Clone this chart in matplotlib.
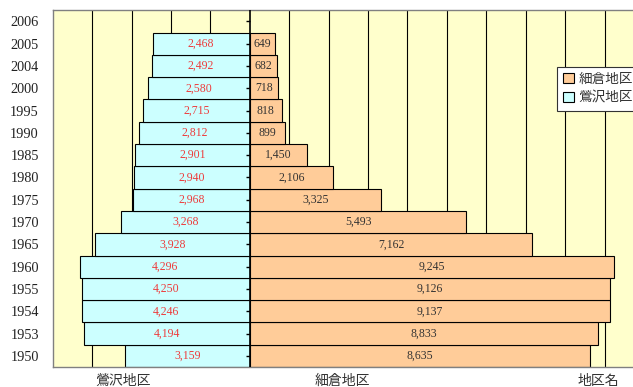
import numpy as np
import matplotlib.pyplot as plt

plt.rcParams['font.family'] = ['Liberation Serif', 'Noto Sans CJK JP']

# data (bottom row first); 2006 row has no values
years = ['1950', '1953', '1954', '1955', '1960', '1965', '1970', '1975',
         '1980', '1985', '1990', '1995', '2000', '2004', '2005', '2006']
uguisuzawa = [3159, 4194, 4246, 4250, 4296, 3928, 3268, 2968,
              2940, 2901, 2812, 2715, 2580, 2492, 2468]
hosokura = [8635, 8833, 9137, 9126, 9245, 7162, 5493, 3325,
            2106, 1450, 899, 818, 718, 682, 649]

fig = plt.figure(figsize=(6.33, 3.87), dpi=100)
ax = fig.add_axes([0.0833, 0.0517, 0.934, 0.9217])
ax.set_facecolor('#FFFFCC')

y = np.arange(len(years))
yv = y[:len(uguisuzawa)]

b_left = ax.barh(yv, -np.array(uguisuzawa), height=1.0, color='#CCFFFF',
                 edgecolor='black', linewidth=0.8, label='鶯沢地区', zorder=2)
b_right = ax.barh(yv, hosokura, height=1.0, color='#FFCC99',
                  edgecolor='black', linewidth=0.8, label='細倉地区', zorder=2)

ax.bar_label(b_left, labels=[f'{v:,}' for v in uguisuzawa], label_type='center',
             color='#EE3B3B', fontsize=8.5)
ax.bar_label(b_right, labels=[f'{v:,}' for v in hosokura], label_type='center',
             color='#333333', fontsize=8.5)

ax.set_xlim(-5000, 10000)
ax.set_ylim(-0.5, len(years) - 0.5)

# vertical gridlines every 1000
ax.set_xticks([t for t in range(-4000, 10000, 1000) if t != 0])
ax.xaxis.grid(True, color='black', linewidth=0.8)
ax.set_axisbelow(True)
ax.tick_params(axis='x', length=0, labelbottom=False)

ax.set_yticks(y, labels=years)
ax.tick_params(axis='y', length=0, pad=10, labelsize=10.3, labelcolor='#222222')

# centre axis with small ticks
ax.axvline(0, color='black', linewidth=1.2, zorder=3)
ax.plot(np.zeros(len(y)), y, ls='none', marker=0, ms=3, mew=1,
        color='black', zorder=3)

for s in ['top', 'left', 'bottom']:
    ax.spines[s].set_color('#808080')
    ax.spines[s].set_linewidth(1)
ax.spines['right'].set_visible(False)

leg = fig.legend([b_right, b_left], ['細倉地区', '鶯沢地区'],
                 loc='upper left', bbox_to_anchor=(0.880, 0.828),
                 fontsize=9.8, frameon=True, fancybox=False, framealpha=1,
                 edgecolor='#333333', handlelength=0.8, handleheight=0.8,
                 handletextpad=0.3, borderpad=0.45, labelspacing=0.45,
                 borderaxespad=0)
for t in leg.get_texts():
    t.set_color('#333333')
leg.get_frame().set_linewidth(0.8)

fig.text(95 / 633, 1 - 375 / 387, '鶯沢地区', ha='left', va='top',
         fontsize=10, color='#333333')
fig.text(315 / 633, 1 - 375 / 387, '細倉地区', ha='left', va='top',
         fontsize=10, color='#333333')
fig.text(578 / 633, 1 - 375 / 387, '地区名', ha='left', va='top',
         fontsize=10, color='#333333')

fig.savefig('out.png', dpi=100)
